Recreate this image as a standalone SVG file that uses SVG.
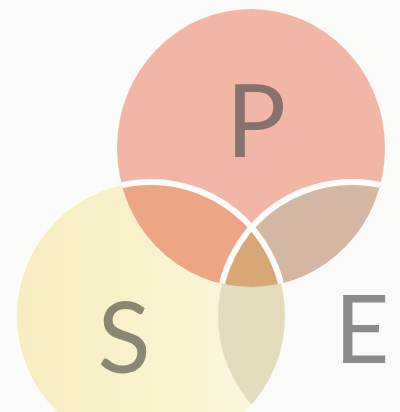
<svg xmlns="http://www.w3.org/2000/svg" width="400" height="412" viewBox="0 0 400 412">
<style>
.lbl{font-family:Lato,"Open Sans","Liberation Sans",sans-serif;font-weight:400;text-anchor:middle}
.gap{fill:none;stroke:#fcfcfa;stroke-width:6}
</style>
<defs>
<clipPath id="clipP"><ellipse cx="251" cy="148" rx="134" ry="139"/></clipPath>
<clipPath id="clipS"><circle cx="151" cy="316" r="134"/></clipPath>
<clipPath id="clipE"><circle cx="352" cy="316" r="134"/></clipPath>
<linearGradient id="gS" x1="0" y1="0" x2="1" y2="0">
<stop offset="0" stop-color="#f6ecbf"/><stop offset="0.6" stop-color="#f9f3cf"/><stop offset="1" stop-color="#fbf8e8"/>
</linearGradient>
<linearGradient id="gL" x1="0" y1="0" x2="1" y2="0">
<stop offset="0" stop-color="#e3ddbd"/><stop offset="1" stop-color="#ebd7c7"/>
</linearGradient>
</defs>
<rect width="400" height="412" fill="#fbfbf9"/>
<g id="circle-S"><circle cx="151" cy="316" r="134" fill="url(#gS)"/></g>
<g id="circle-E"><circle cx="352" cy="316" r="134" fill="#fafbf8"/></g>
<g id="circle-P"><ellipse cx="251" cy="148" rx="134" ry="139" fill="#f1b6a6"/></g>
<g id="P-S" clip-path="url(#clipP)"><circle cx="151" cy="316" r="134" fill="#eda586"/></g>
<g id="P-E" clip-path="url(#clipP)"><circle cx="352" cy="316" r="134" fill="#d4b7a3"/></g>
<g id="S-E" clip-path="url(#clipS)"><circle cx="352" cy="316" r="134" fill="url(#gL)"/></g>
<g id="P-S-E" clip-path="url(#clipP)"><g clip-path="url(#clipS)"><circle cx="352" cy="316" r="134" fill="#d8a775"/></g></g>
<g id="connectors" clip-path="url(#clipP)">
<circle class="gap" cx="151" cy="316" r="134"/>
<circle class="gap" cx="352" cy="316" r="134"/>
</g>
<g id="label-P"><text class="lbl" x="256" y="157" font-size="100" fill="#86716c">P</text></g>
<g id="label-S"><text class="lbl" x="124" y="373" font-size="98" fill="#8a8873">S</text></g>
<g id="label-E"><text class="lbl" x="362" y="363" font-size="95" fill="#8b8b87">E</text></g>
</svg>
